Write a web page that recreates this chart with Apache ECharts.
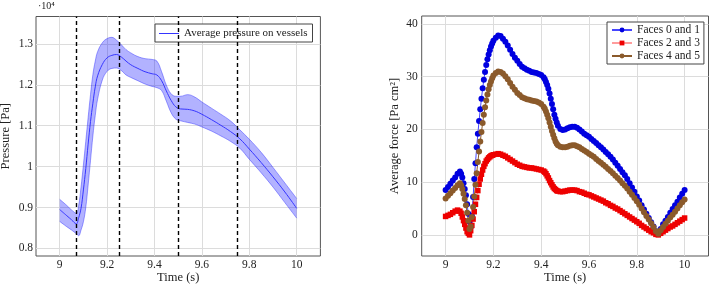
<!DOCTYPE html>
<html>
<head>
<meta charset="utf-8">
<title>Pressure and force</title>
<script src="https://cdn.jsdelivr.net/npm/echarts@6/dist/echarts.min.js"></script>
<style>
html, body { margin: 0; padding: 0; background: #fff; }
#chart { width: 709px; height: 285px; }
</style>
</head>
<body>
<div id="chart"></div>
<script>
// ---- left panel: average pressure on vessels (x 10^4 Pa) ----
var tP = [9.00, 9.03, 9.05, 9.07,
    9.08, 9.09, 9.10, 9.11, 9.12, 9.13, 9.14, 9.15, 9.16,
    9.18, 9.20, 9.22, 9.24, 9.26, 9.28, 9.30,
    9.33, 9.36, 9.39,
    9.41, 9.43, 9.45, 9.47, 9.49, 9.51,
    9.54, 9.57, 9.60,
    9.64, 9.68, 9.72, 9.76, 9.80,
    9.85, 9.90, 9.95, 10.00];
var pMean = [0.895, 0.880, 0.870, 0.860,
    0.875, 0.898, 0.943, 0.995, 1.055, 1.110, 1.155, 1.195, 1.222,
    1.250, 1.266, 1.272, 1.274, 1.268, 1.258, 1.249,
    1.240, 1.232, 1.227,
    1.224, 1.210, 1.185, 1.162, 1.146, 1.141,
    1.140, 1.136, 1.128,
    1.115, 1.101, 1.086, 1.068, 1.043,
    1.010, 0.975, 0.938, 0.898];
var pUpper = [0.920, 0.905, 0.894, 0.886,
    0.905, 0.950, 1.004, 1.062, 1.120, 1.176, 1.225, 1.258, 1.281,
    1.303, 1.313, 1.316, 1.309, 1.298, 1.286, 1.278,
    1.269, 1.264, 1.262,
    1.258, 1.232, 1.199, 1.178, 1.172, 1.172,
    1.176, 1.170, 1.158,
    1.143, 1.128, 1.112, 1.090, 1.067,
    1.035, 0.998, 0.960, 0.922];
var pLower = [0.866, 0.853, 0.845, 0.836,
    0.831, 0.845, 0.865, 0.900, 0.955, 1.015, 1.075, 1.125, 1.165,
    1.212, 1.233, 1.240, 1.241, 1.235, 1.224, 1.218,
    1.210, 1.202, 1.196,
    1.193, 1.186, 1.160, 1.132, 1.116, 1.112,
    1.108, 1.104, 1.097,
    1.087, 1.075, 1.062, 1.045, 1.018,
    0.985, 0.950, 0.912, 0.874];
var dashTimes = [9.07, 9.25, 9.5, 9.75];
var pTicks = [0.8, 0.9, 1, 1.1, 1.2, 1.3];
var timeTicks = [9, 9.2, 9.4, 9.6, 9.8, 10];

// ---- right panel: average force on faces (Pa cm^2) ----
var tF = [9.00, 9.01, 9.02, 9.03, 9.04, 9.05, 9.06,
    9.065, 9.07, 9.075, 9.08, 9.085, 9.09, 9.095, 9.10, 9.105, 9.11, 9.115, 9.12, 9.125, 9.13,
    9.135, 9.14, 9.145, 9.15, 9.155, 9.16, 9.165, 9.17, 9.175, 9.18, 9.185, 9.19, 9.195,
    9.20, 9.21, 9.22, 9.23, 9.24, 9.25, 9.26, 9.27, 9.28, 9.29, 9.30,
    9.31, 9.32, 9.33, 9.34, 9.35, 9.36, 9.37, 9.38, 9.39, 9.40, 9.41,
    9.415, 9.42, 9.425, 9.43, 9.435, 9.44, 9.445, 9.45, 9.455, 9.46, 9.465, 9.47,
    9.48, 9.49, 9.50, 9.51, 9.52, 9.53, 9.54, 9.55, 9.56, 9.57, 9.58, 9.59, 9.60,
    9.61, 9.62, 9.63, 9.64, 9.65, 9.66, 9.67, 9.68, 9.69, 9.70,
    9.71, 9.72, 9.73, 9.74, 9.75, 9.76, 9.77, 9.78, 9.79, 9.80,
    9.81, 9.82, 9.83, 9.84, 9.85, 9.86, 9.87, 9.88, 9.89, 9.90,
    9.91, 9.92, 9.93, 9.94, 9.95, 9.96, 9.97, 9.98, 9.99, 10.00];
var face01 = [8.5, 9.1, 9.7, 10.3, 10.9, 11.6, 12.0,
    11.6, 10.9, 9.8, 8.7, 7.5, 5.8, 4.0, 2.5, 1.5, 3.6, 7.2, 10.6, 13.6, 16.6,
    19.2, 21.6, 23.8, 25.8, 27.8, 29.4, 30.9, 32.2, 33.3, 34.2, 35.0, 35.7, 36.3,
    36.8, 37.4, 37.8, 37.7, 37.2, 36.6, 35.9, 35.1, 34.3, 33.6, 33.0,
    32.4, 31.9, 31.6, 31.3, 31.1, 30.9, 30.8, 30.7, 30.5, 30.3, 29.9,
    29.5, 29.0, 28.4, 27.7, 26.8, 25.8, 24.8, 23.8, 22.8, 22.0, 21.3, 20.7,
    20.1, 19.9, 20.0, 20.2, 20.4, 20.5, 20.5, 20.3, 20.0, 19.6, 19.2, 18.9, 18.6,
    18.2, 17.8, 17.4, 17.0, 16.6, 16.2, 15.7, 15.3, 14.8, 14.3,
    13.7, 13.1, 12.5, 11.9, 11.3, 10.6, 9.8, 9.0, 8.2, 7.3,
    6.5, 5.6, 4.8, 4.0, 3.2, 2.4, 1.6, 0.7, 0.2, 1.1,
    2.0, 2.7, 3.4, 4.2, 4.9, 5.6, 6.3, 7.1, 7.8, 8.5];
var face23 = [3.5, 3.7, 3.9, 4.2, 4.5, 4.7, 4.5,
    4.1, 3.4, 2.7, 2.0, 1.3, 0.6, 0.3, 0.0, 0.8, 1.8, 3.0, 4.4, 5.8, 7.1,
    8.4, 9.6, 10.6, 11.5, 12.3, 13.0, 13.5, 14.0, 14.3, 14.6, 14.8, 15.0, 15.1,
    15.2, 15.3, 15.4, 15.3, 15.1, 14.9, 14.6, 14.3, 14.0, 13.7, 13.4,
    13.2, 13.0, 12.9, 12.8, 12.7, 12.7, 12.6, 12.5, 12.4, 12.3, 12.1,
    11.9, 11.6, 11.2, 10.8, 10.3, 9.9, 9.5, 9.1, 8.8, 8.6, 8.4, 8.3,
    8.2, 8.2, 8.3, 8.4, 8.5, 8.5, 8.5, 8.4, 8.2, 8.1, 7.9, 7.7, 7.6,
    7.4, 7.2, 7.0, 6.8, 6.6, 6.4, 6.1, 5.9, 5.6, 5.4,
    5.1, 4.9, 4.6, 4.3, 4.0, 3.7, 3.4, 3.1, 2.8, 2.5,
    2.2, 1.8, 1.5, 1.2, 0.9, 0.6, 0.4, 0.1, 0.0, 0.3,
    0.6, 0.9, 1.2, 1.5, 1.7, 2.0, 2.3, 2.6, 2.9, 3.2];
var face45 = [6.9, 7.4, 7.9, 8.4, 8.9, 9.4, 9.8,
    9.4, 8.7, 7.8, 6.8, 5.6, 4.2, 2.7, 1.1, 1.6, 3.4, 5.3, 7.3, 9.5, 11.7,
    13.8, 15.8, 17.7, 19.5, 21.2, 22.8, 24.2, 25.5, 26.6, 27.6, 28.4, 29.1, 29.7,
    30.2, 30.7, 31.0, 30.9, 30.6, 30.1, 29.5, 28.8, 28.1, 27.5, 26.9,
    26.5, 26.1, 25.9, 25.7, 25.6, 25.5, 25.4, 25.3, 25.1, 24.8, 24.3,
    23.9, 23.4, 22.8, 22.1, 21.3, 20.5, 19.7, 19.0, 18.3, 17.7, 17.3, 17.0,
    16.7, 16.6, 16.6, 16.7, 16.9, 17.0, 17.0, 16.8, 16.6, 16.3, 16.0, 15.7, 15.4,
    15.1, 14.8, 14.4, 14.0, 13.7, 13.3, 12.9, 12.5, 12.1, 11.7,
    11.2, 10.8, 10.3, 9.8, 9.3, 8.8, 8.2, 7.6, 7.0, 6.4,
    5.7, 5.0, 4.3, 3.6, 2.9, 2.2, 1.5, 0.7, 0.2, 0.9,
    1.5, 2.1, 2.7, 3.3, 3.8, 4.4, 5.0, 5.6, 6.2, 6.7];
var forceTicks = [0, 10, 20, 30, 40];

var serif = '"Liberation Serif", "DejaVu Serif", serif';
var txt = { fontFamily: serif, fontSize: 11, color: '#222' };
var nameTxt = { fontFamily: serif, fontSize: 12.5, color: '#222' };

function pairs(t, v) {
    return t.map(function (x, i) { return [x, v[i]]; });
}
// value first, time second: ECharts stacks the first numeric column,
// so the band is stacked on pressure and not on time
function valueFirst(t, v) {
    return t.map(function (x, i) { return [v[i], x]; });
}
var bandWidth = pUpper.map(function (u, i) { return +(u - pLower[i]).toFixed(4); });

function timeAxis(gi) {
    return {
        gridIndex: gi, type: 'value', min: 8.9, max: 10.1,
        name: 'Time (s)', nameLocation: 'middle', nameGap: 15, nameMoveOverlap: false,
        nameTextStyle: nameTxt,
        axisLine: { show: false },
        axisTick: { show: false, customValues: timeTicks },
        axisLabel: { customValues: timeTicks, margin: 3, fontFamily: serif, fontSize: 11.5, color: '#222' },
        splitLine: { show: true, lineStyle: { color: '#dcdcdc', width: 1 } }
    };
}

var chart = echarts.init(document.getElementById('chart'));
var option = {
    animation: false,
    grid: [
        {
            left: 36, top: 16.5, width: 284.4, height: 239.5, outerBoundsMode: 'none',
            show: true, borderColor: '#555', borderWidth: 1
        },
        {
            left: 421.7, top: 16, width: 286.8, height: 240, outerBoundsMode: 'none',
            show: true, borderColor: '#555', borderWidth: 1
        }
    ],
    xAxis: [timeAxis(0), timeAxis(1)],
    yAxis: [
        {
            gridIndex: 0, type: 'value', min: 0.7815, max: 1.367,
            name: 'Pressure [Pa]', nameLocation: 'middle', nameGap: 24, nameMoveOverlap: false,
            nameTextStyle: nameTxt,
            axisLine: { show: false },
            axisTick: { show: false, customValues: pTicks },
            axisLabel: { customValues: pTicks, margin: 3, fontFamily: serif, fontSize: 11.5, color: '#222' },
            splitLine: { show: true, lineStyle: { color: '#dcdcdc', width: 1 } }
        },
        {
            gridIndex: 1, type: 'value', min: -4, max: 41.5,
            name: 'Average force [Pa cm²]', nameLocation: 'middle', nameGap: 20, nameMoveOverlap: false,
            nameTextStyle: nameTxt,
            axisLine: { show: false },
            axisTick: { show: false, customValues: forceTicks },
            axisLabel: { customValues: forceTicks, margin: 4, fontFamily: serif, fontSize: 11.5, color: '#222' },
            splitLine: { show: true, lineStyle: { color: '#dcdcdc', width: 1 } }
        }
    ],
    legend: [
        {
            data: ['Average pressure on vessels'],
            left: 155, top: 24, orient: 'vertical',
            icon: 'rect', itemWidth: 20, itemHeight: 1, itemGap: 2,
            padding: [4, 5, 3, 4],
            borderColor: '#444', borderWidth: 1, borderRadius: 0, backgroundColor: '#fff',
            textStyle: txt, selectedMode: false
        },
        {
            data: ['Faces 0 and 1', 'Faces 2 and 3', 'Faces 4 and 5'],
            left: 607, top: 22, orient: 'vertical',
            itemWidth: 20, itemHeight: 6, itemGap: 1,
            padding: [2, 4, 2, 4],
            borderColor: '#444', borderWidth: 1, borderRadius: 0, backgroundColor: '#fff',
            textStyle: { fontFamily: serif, fontSize: 11.5, color: '#222' }, selectedMode: false
        }
    ],
    graphic: [
        { type: 'text', left: 38, top: 1, style: { text: '·10⁴', font: '10px "Liberation Serif"', fill: '#222' } }
    ],
    series: [
        {
            name: 'lower edge', type: 'line', xAxisIndex: 0, yAxisIndex: 0,
            data: valueFirst(tP, pLower), encode: { x: 1, y: 0 },
            stack: 'band', smooth: 0.4, symbol: 'none', silent: true,
            lineStyle: { color: 'rgba(40,40,255,0.55)', width: 0.8 }
        },
        {
            name: 'band', type: 'line', xAxisIndex: 0, yAxisIndex: 0,
            data: valueFirst(tP, bandWidth), encode: { x: 1, y: 0 },
            stack: 'band', smooth: 0.4, symbol: 'none', silent: true,
            lineStyle: { color: 'rgba(40,40,255,0.55)', width: 0.8 },
            areaStyle: { color: 'rgba(0,0,255,0.3)', opacity: 1 }
        },
        {
            name: 'Average pressure on vessels', type: 'line', xAxisIndex: 0, yAxisIndex: 0,
            data: pairs(tP, pMean), smooth: 0.4, symbol: 'none',
            lineStyle: { color: '#3535ff', width: 1 },
            itemStyle: { color: '#3535ff' },
            markLine: {
                silent: true, symbol: ['none', 'none'], label: { show: false },
                lineStyle: { color: '#000', type: [4, 3], width: 1.4 },
                data: dashTimes.map(function (t) { return { xAxis: t }; })
            }
        },
        {
            name: 'Faces 0 and 1', type: 'line', xAxisIndex: 1, yAxisIndex: 1,
            data: pairs(tF, face01), symbol: 'circle', symbolSize: 6,
            lineStyle: { color: '#4646ff', width: 1 },
            itemStyle: { color: '#0000e0' }
        },
        {
            name: 'Faces 2 and 3', type: 'line', xAxisIndex: 1, yAxisIndex: 1,
            data: pairs(tF, face23), symbol: 'rect', symbolSize: 5.5,
            lineStyle: { color: '#ff9c9c', width: 1 },
            itemStyle: { color: '#ee0000' }
        },
        {
            name: 'Faces 4 and 5', type: 'line', xAxisIndex: 1, yAxisIndex: 1,
            data: pairs(tF, face45), symbol: 'circle', symbolSize: 6,
            lineStyle: { color: '#8b5a2b', width: 1 },
            itemStyle: { color: '#8b5a2b' }
        }
    ]
};
chart.setOption(option);
</script>
</body>
</html>
